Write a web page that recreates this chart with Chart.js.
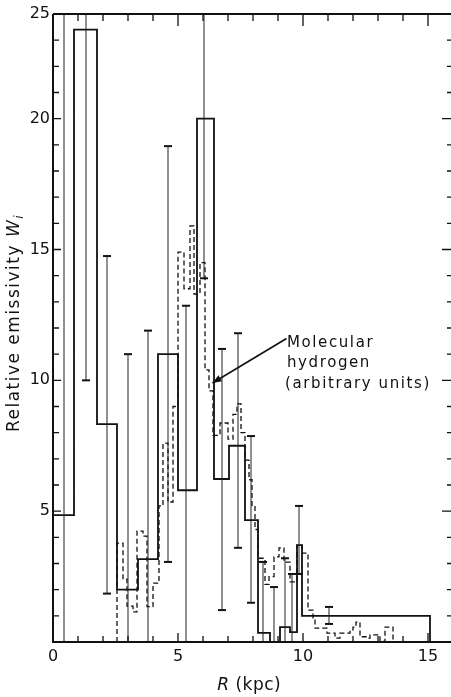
<!DOCTYPE html>
<html><head><meta charset="utf-8">
<script src="https://cdn.jsdelivr.net/npm/chart.js@4"></script>
<style>html,body{margin:0;padding:0;background:#fff;overflow:hidden;} #wrap{width:451px;height:697px;position:relative;} canvas{display:block;}</style>
</head><body><div id="wrap"><canvas id="c"></canvas></div>
<script>
// Solid histogram: relative emissivity W_i (bin edges in kpc, one value per bin)
const emisEdges  = [0, 0.84, 1.76, 2.56, 3.4, 4.2, 5.0, 5.76, 6.44, 7.04, 7.68, 8.2, 8.68, 9.08, 9.48, 9.76, 9.96, 15.08];
const emisValues = [4.85, 23.4, 8.33, 2.0, 3.17, 11.0, 5.8, 20.0, 6.23, 7.5, 4.66, 0.35, 0, 0.57, 0.38, 3.7, 1.0];

// Dashed histogram: molecular hydrogen (arbitrary units)
const h2Edges  = [2.56, 2.8, 2.96, 3.2, 3.36, 3.6, 3.76, 4.0, 4.24, 4.4, 4.6, 4.8, 5.0, 5.24, 5.48, 5.64, 5.88, 6.08, 6.24, 6.4, 6.68, 7.0, 7.2, 7.36, 7.52, 7.68, 7.84, 7.96, 8.08, 8.2, 8.48, 8.64, 8.84, 9.04, 9.24, 9.48, 9.76, 9.96, 10.2, 10.4, 10.48, 10.96, 11.28, 11.48, 11.88, 12.0, 12.12, 12.28, 12.56, 12.68, 13.08, 13.28, 13.6];
const h2Values = [3.78, 2.4, 1.37, 1.15, 4.24, 4.05, 1.35, 2.25, 5.2, 7.6, 5.35, 9.0, 14.9, 13.5, 15.9, 13.3, 14.5, 10.4, 9.6, 7.9, 8.37, 7.75, 8.7, 9.1, 8.0, 6.95, 6.2, 5.2, 4.3, 3.2, 2.2, 2.5, 3.25, 3.6, 3.05, 2.3, 3.7, 3.4, 1.22, 0.92, 0.53, 0.34, 0.15, 0.34, 0.46, 0.57, 0.76, 0.2, 0.15, 0.27, 0.02, 0.57];

// Error bars on W_i
const errR    = [0.44, 1.32, 2.16, 3.0, 3.8, 4.6, 5.32, 6.04, 6.76, 7.4, 7.92, 8.4, 8.84, 9.28, 9.56, 9.84, 11.04];
const errLow  = [0, 10, 1.85, 0, 0, 3.06, 0, 13.9, 1.22, 3.6, 1.5, 0, 0, 0, 0, 2.6, 0.69];
const errHigh = [24.5, 24.5, 14.75, 11.0, 11.9, 18.95, 12.85, 24.5, 11.2, 11.8, 7.87, 3.06, 2.1, 3.2, 2.6, 5.2, 1.34];

// Tick labels (the figure labels its top edge "25"; the "0" in the corner belongs to the R axis)
const xTickValues = [0, 5, 10, 15];
const xTickLabels = ['0', '5', '10', '15'];
const yTickValues = [0, 5, 10, 15, 20, 24];
const yTickLabels = ['', '5', '10', '15', '20', '25'];

const X_MAX = 15.92, Y_MAX = 24;

function stepPoints(edges, values) {
  const pts = [{x: edges[0], y: 0}];
  values.forEach((v, i) => pts.push({x: edges[i], y: v}));
  pts.push({x: edges[edges.length - 1], y: values[values.length - 1]});
  pts.push({x: edges[edges.length - 1], y: 0});
  return pts;
}
const errLines = [];
const errCaps = [];
errR.forEach((r, i) => {
  errLines.push({x: r, y: errLow[i]}, {x: r, y: errHigh[i]}, {x: r, y: null});
  if (errHigh[i] < Y_MAX) errCaps.push({x: r, y: errHigh[i]});
  if (errLow[i] > 0) errCaps.push({x: r, y: errLow[i]});
});

const INK = '#111';
const FONT = "'DejaVu Sans', sans-serif";

const framePlugin = {
  id: 'frame',
  afterDraw(chart) {
    const {ctx, chartArea: a, scales: {x, y}} = chart;
    ctx.save();
    ctx.strokeStyle = INK;
    ctx.lineWidth = 2;
    ctx.beginPath();
    ctx.moveTo(a.left, a.top); ctx.lineTo(a.left, a.bottom); ctx.lineTo(a.right, a.bottom);
    ctx.moveTo(a.left, a.top); ctx.lineTo(a.right, a.top);
    ctx.stroke();
    ctx.lineWidth = 1.3;
    ctx.beginPath();
    for (let r = 1; r <= Math.floor(x.max); r++) {
      const px = x.getPixelForValue(r);
      const major = r % 5 === 0;
      ctx.moveTo(px, a.bottom); ctx.lineTo(px, a.bottom - (major ? 9 : 6));
      ctx.moveTo(px, a.top); ctx.lineTo(px, a.top + (major ? 12 : 7));
    }
    for (let v = 1; v < y.max; v++) {
      const py = y.getPixelForValue(v);
      const major = v % 5 === 0;
      ctx.moveTo(a.left, py); ctx.lineTo(a.left + (major ? 8 : 6), py);
      ctx.moveTo(a.right, py); ctx.lineTo(a.right - (major ? 9 : 4), py);
    }
    ctx.stroke();

    // annotation arrow
    const tx = x.getPixelForValue(6.38), ty = y.getPixelForValue(9.9);
    const sx = x.getPixelForValue(9.34), sy = y.getPixelForValue(11.6);
    ctx.lineWidth = 1.6;
    ctx.beginPath(); ctx.moveTo(sx, sy); ctx.lineTo(tx, ty); ctx.stroke();
    const ang = Math.atan2(ty - sy, tx - sx);
    ctx.fillStyle = INK;
    ctx.beginPath();
    ctx.moveTo(tx, ty);
    ctx.lineTo(tx - 9 * Math.cos(ang) + 3.5 * Math.sin(ang), ty - 9 * Math.sin(ang) - 3.5 * Math.cos(ang));
    ctx.lineTo(tx - 9 * Math.cos(ang) - 3.5 * Math.sin(ang), ty - 9 * Math.sin(ang) + 3.5 * Math.cos(ang));
    ctx.closePath(); ctx.fill();

    // annotation text
    ctx.font = '15px ' + FONT;
    ctx.letterSpacing = '1.6px';
    ctx.textBaseline = 'middle';
    ctx.textAlign = 'left';
    const lx = x.getPixelForValue(9.32), ly = y.getPixelForValue(9.86);
    ctx.fillText('Molecular', lx + 1, ly - 41);
    ctx.fillText('hydrogen', lx + 1, ly - 21);
    ctx.fillText('(arbitrary units)', lx - 1, ly);

    // x-axis title: R (kpc)
    ctx.letterSpacing = '0.5px';
    ctx.font = 'italic 17px ' + FONT;
    const wR = ctx.measureText('R').width;
    ctx.font = '17px ' + FONT;
    const wRest = ctx.measureText(' (kpc)').width;
    const cx = x.getPixelForValue(7.85);
    let px0 = cx - (wR + wRest) / 2;
    ctx.font = 'italic 17px ' + FONT;
    ctx.fillText('R', px0, 686);
    ctx.font = '17px ' + FONT;
    ctx.fillText(' (kpc)', px0 + wR, 686);

    // y-axis title: Relative emissivity W_i
    ctx.translate(15, 323);
    ctx.rotate(-Math.PI / 2);
    ctx.letterSpacing = '1.5px';
    ctx.font = '17px ' + FONT;
    const t1 = 'Relative emissivity ';
    const w1 = ctx.measureText(t1).width;
    ctx.font = 'italic 17px ' + FONT;
    const w2 = ctx.measureText('W').width;
    ctx.font = 'italic 12px ' + FONT;
    const w3 = ctx.measureText('i').width;
    let q = -(w1 + w2 + w3) / 2;
    ctx.font = '17px ' + FONT;
    ctx.fillText(t1, q, 0);
    ctx.font = 'italic 17px ' + FONT;
    ctx.fillText('W', q + w1, 0);
    ctx.font = 'italic 12px ' + FONT;
    ctx.fillText('i', q + w1 + w2, 5);
    ctx.letterSpacing = '0px';
    ctx.restore();
    ctx.letterSpacing = '0px';
  }
};

new Chart(document.getElementById('c'), {
  type: 'scatter',
  data: {
    datasets: [
      {
        label: 'Error bars',
        data: errLines,
        showLine: true,
        spanGaps: false,
        borderColor: '#222',
        borderWidth: 1,
        pointRadius: 0
      },
      {
        label: 'Error caps',
        data: errCaps,
        showLine: false,
        pointStyle: 'line',
        pointRadius: 4,
        borderWidth: 2,
        borderColor: INK,
        pointBorderColor: INK,
        pointBorderWidth: 2
      },
      {
        label: 'Relative emissivity',
        data: stepPoints(emisEdges, emisValues),
        showLine: true,
        stepped: true,
        borderColor: INK,
        borderWidth: 1.8,
        pointRadius: 0
      },
      {
        label: 'Molecular hydrogen',
        data: stepPoints(h2Edges, h2Values),
        showLine: true,
        stepped: true,
        borderColor: INK,
        borderWidth: 1.3,
        borderDash: [5, 3],
        pointRadius: 0
      }
    ]
  },
  options: {
    responsive: true,
    maintainAspectRatio: false,
    animation: false,
    events: [],
    layout: {autoPadding: false, padding: {top: 14, right: 0, bottom: 0, left: 0}},
    plugins: {legend: {display: false}, tooltip: {enabled: false}},
    scales: {
      x: {
        type: 'linear',
        min: 0,
        max: X_MAX,
        afterBuildTicks: s => { s.ticks = xTickValues.map(v => ({value: v})); },
        afterFit: s => { s.height = 55; s.paddingLeft = 0; s.paddingRight = 0; },
        grid: {display: false, drawTicks: false},
        border: {display: false},
        ticks: {
          padding: 5,
          maxRotation: 0,
          autoSkip: false,
          color: INK,
          font: {family: FONT, size: 16},
          callback: (v, i) => xTickLabels[i]
        }
      },
      y: {
        type: 'linear',
        min: 0,
        max: Y_MAX,
        afterBuildTicks: s => { s.ticks = yTickValues.map(v => ({value: v})); },
        afterFit: s => { s.width = 53; s.paddingTop = 0; s.paddingBottom = 0; },
        grid: {display: false, drawTicks: false},
        border: {display: false},
        ticks: {
          padding: 3,
          autoSkip: false,
          color: INK,
          font: {family: FONT, size: 16},
          callback: (v, i) => yTickLabels[i]
        }
      }
    }
  },
  plugins: [framePlugin]
});
</script>
</body></html>
